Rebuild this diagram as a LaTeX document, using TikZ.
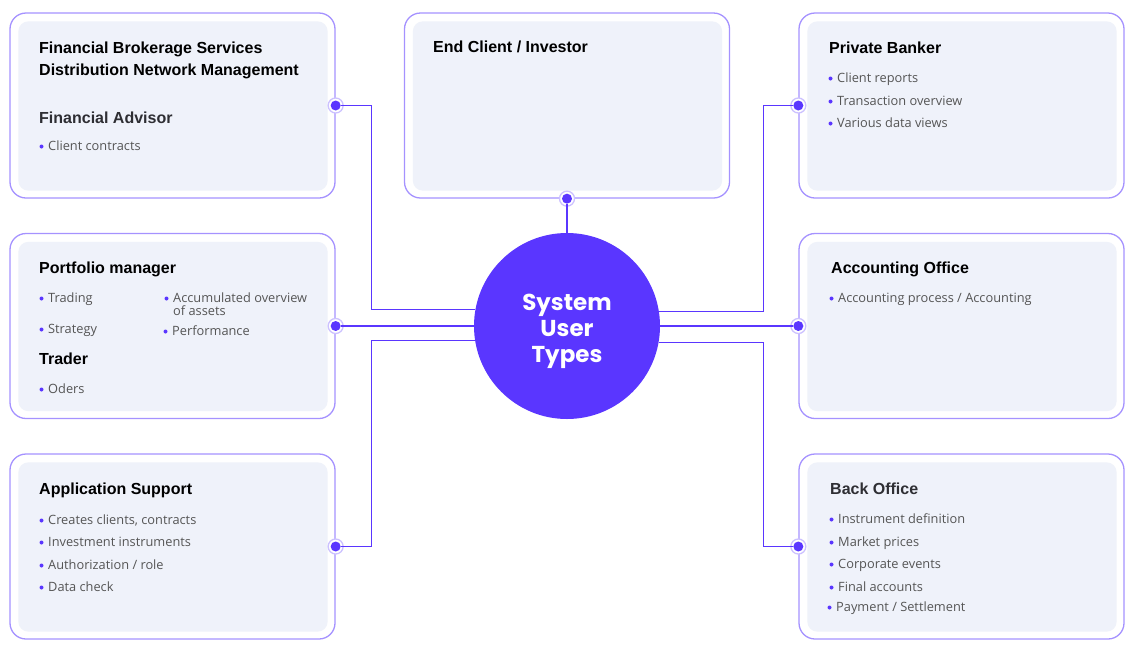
\documentclass[tikz,border=0pt]{standalone}
\usepackage{fontspec}
\setmainfont{Liberation Sans}
\newfontfamily\itemfont{Open Sans}
\newfontfamily\circfont{Poppins}
\definecolor{mainp}{HTML}{5A36FF}
\definecolor{bordp}{HTML}{A592FF}
\definecolor{halop}{HTML}{CCC1FF}
\definecolor{boxfill}{HTML}{EFF2FA}
\definecolor{itemgray}{HTML}{555555}
\definecolor{headgray}{HTML}{2E2E33}
\tikzset{
  ubox/.style={draw=bordp, line width=1.3pt, fill=white, rounded corners=16pt,
    minimum width=325pt, minimum height=185pt, inner sep=0pt},
  hub/.style={circle, fill=mainp, minimum size=186pt, inner sep=0pt},
  conn/.style={draw=mainp, line width=1.2pt},
  dotnode/.style={circle, fill=mainp, minimum size=10pt, inner sep=0pt},
  halo/.style={draw=halop, line width=1.3pt, fill=white},
  head/.style={anchor=base west, inner sep=0pt, font=\fontsize{16}{18}\selectfont\bfseries, text=black},
  headg/.style={head, text=headgray},
  itm/.style={anchor=base west, inner sep=0pt, font=\itemfont\fontsize{12.8}{13}\selectfont, text=itemgray, align=left},
  bul/.style={fill=mainp},
}
\newcommand\innerfill[1]{\fill[boxfill, rounded corners=10pt] ([shift={(9,9)}]#1.north west) rectangle ([shift={(-8,-8)}]#1.south east);}
\newcommand\bulitem[4]{% name, x, baseline, text
  \node[itm] (#1) at (#2,#3) {#4};
  \fill[bul] ($(#1.base west)+(-6.5,-4)$) circle (2pt);
}
\usetikzlibrary{calc}
\begin{document}
\begin{tikzpicture}[x=1pt,y=-1pt]
\useasboundingbox (0,0) rectangle (1136,649);
% boxes
\node[ubox] (tl) at (172.5,105.5) {};
\node[ubox] (tm) at (567,105.5) {};
\node[ubox] (tr) at (961.5,105.5) {};
\node[ubox] (ml) at (172.5,326) {};
\node[ubox] (mr) at (961.5,326) {};
\node[ubox] (bl) at (172.5,546.5) {};
\node[ubox] (br) at (961.5,546.5) {};
\innerfill{tl}\innerfill{tm}\innerfill{tr}\innerfill{ml}\innerfill{mr}\innerfill{bl}\innerfill{br}
% hub
\node[hub] (c) at (567,326) {};
% dots
\foreach \n/\a in {tl/east,ml/east,bl/east,tm/south,tr/west,mr/west,br/west}{
  \draw[halo] (\n.\a) circle (7.5pt);
}
\node[dotnode] (dtl) at (tl.east) {};
\node[dotnode] (dml) at (ml.east) {};
\node[dotnode] (dbl) at (bl.east) {};
\node[dotnode] (dtm) at (tm.south) {};
\node[dotnode] (dtr) at (tr.west) {};
\node[dotnode] (dmr) at (mr.west) {};
\node[dotnode] (dbr) at (br.west) {};
% connectors
\draw[conn] (dtl) -- ++(36,0) |- (c.170.72);
\draw[conn] (dml) -- (c.west);
\draw[conn] (dbl) -- ++(36,0) |- (c.189.28);
\draw[conn] (dtm) -- (c.north);
\draw[conn] (dtr) -- ++(-35,0) |- (c.9.28);
\draw[conn] (dmr) -- (c.east);
\draw[conn] (dbr) -- ++(-35,0) |- (c.350.72);
% hub text
\node[text=white, align=center, font=\circfont\bfseries\fontsize{23}{26}\selectfont, inner sep=0pt] (ct) at (567,331) {System\\User\\Types};
% top-left
\node[head] (h1) at (39,53.5) {Financial Brokerage Services};
\node[head] (h2) at (39,75.5) {Distribution Network Management};
\node[headg] (h3) at (39,123.5) {Financial Advisor};
\bulitem{i1}{48}{150.5}{Client contracts}
% top-middle
\node[head] (h4) at (433,52.5) {End Client / Investor};
% top-right
\node[head] (h5) at (829,53.5) {Private Banker};
\bulitem{i2}{837}{82.5}{Client reports}
\bulitem{i3}{837}{105.5}{Transaction overview}
\bulitem{i4}{837}{127.5}{Various data views}
% middle-left
\node[head] (h6) at (39,273.5) {Portfolio manager};
\bulitem{i5}{48}{302.5}{Trading}
\bulitem{i6}{48}{333.5}{Strategy}
\node[itm] (i7) at (173,302.5) {Accumulated overview};
\fill[bul] ($(i7.base west)+(-6.5,-4)$) circle (2pt);
\node[itm] (i7b) at (173,315.5) {of assets};
\bulitem{i8}{172}{335.5}{Performance}
\node[head] (h7) at (39,364.5) {Trader};
\bulitem{i9}{48}{393.5}{Oders}
% middle-right
\node[head] (h8) at (831,273.5) {Accounting Office};
\bulitem{i10}{838}{302.5}{Accounting process / Accounting}
% bottom-left
\node[head] (h9) at (39,494.5) {Application Support};
\bulitem{i11}{48}{524.5}{Creates clients, contracts}
\bulitem{i12}{48}{546.5}{Investment instruments}
\bulitem{i13}{48}{569.5}{Authorization / role}
\bulitem{i14}{48}{591.5}{Data check}
% bottom-right
\node[headg] (h10) at (830,494.5) {Back Office};
\bulitem{i15}{838}{523.5}{Instrument definition}
\bulitem{i16}{838}{546.5}{Market prices}
\bulitem{i17}{838}{568.5}{Corporate events}
\bulitem{i18}{838}{591.5}{Final accounts}
\bulitem{i19}{836}{611.5}{Payment / Settlement}
\end{tikzpicture}
\end{document}
